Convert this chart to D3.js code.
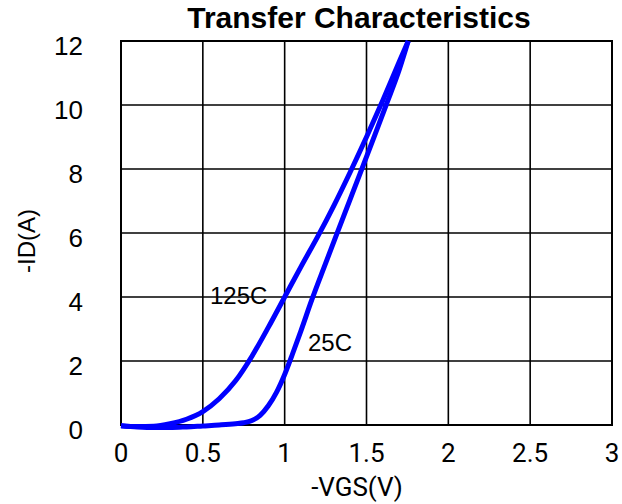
<!DOCTYPE html>
<html>
<head>
<meta charset="utf-8">
<script src="https://cdn.jsdelivr.net/npm/d3@7/dist/d3.min.js"></script>
<style>
  html, body { margin: 0; padding: 0; background: #fff; }
  svg { display: block; }
</style>
</head>
<body>
<svg id="chart" width="622" height="504"></svg>
<script>
// Transfer characteristics: -ID versus -VGS at two junction temperatures
const xTicks = [0, 0.5, 1, 1.5, 2, 2.5, 3];
const yTicks = [0, 2, 4, 6, 8, 10, 12];

const vgs125 = [0, 0.1, 0.2, 0.3, 0.4, 0.5, 0.6, 0.7, 0.8, 0.9, 1.0, 1.1, 1.2, 1.3, 1.4, 1.5, 1.6, 1.7, 1.755];
const id125  = [-0.02, -0.05, -0.04, 0.04, 0.18, 0.42, 0.82, 1.38, 2.15, 3.05, 4.0, 4.95, 5.87, 6.85, 7.9, 9.0, 10.15, 11.35, 12.0];

const vgs25 = [0, 0.1, 0.2, 0.3, 0.4, 0.5, 0.6, 0.7, 0.75, 0.8, 0.85, 0.9, 0.95, 1.0, 1.05, 1.1, 1.165, 1.25, 1.317, 1.4, 1.47, 1.55, 1.62, 1.7, 1.755];
const id25  = [-0.02, -0.06, -0.08, -0.08, -0.06, -0.03, 0.0, 0.04, 0.07, 0.14, 0.3, 0.6, 1.02, 1.58, 2.25, 2.95, 3.9, 5.05, 5.95, 7.05, 7.98, 9.05, 10.0, 11.1, 12.0];

const seriesNames = ["125C", "25C"];

const svg = d3.select("#chart");
const plotL = 121, plotR = 612, plotT = 41, plotB = 425;

const x = d3.scaleLinear().domain([0, 3]).range([plotL, plotR]);
const y = d3.scaleLinear().domain([0, 12]).range([plotB, plotT]);

// grid
const grid = svg.append("g").attr("stroke", "#000").attr("stroke-width", 1.6);
grid.selectAll("line.v").data(xTicks).join("line")
  .attr("x1", d => x(d)).attr("x2", d => x(d))
  .attr("y1", plotT).attr("y2", plotB);
grid.selectAll("line.h").data(yTicks).join("line")
  .attr("x1", plotL).attr("x2", plotR)
  .attr("y1", d => y(d)).attr("y2", d => y(d));

// frame
svg.append("rect")
  .attr("x", plotL).attr("y", plotT)
  .attr("width", plotR - plotL).attr("height", plotB - plotT)
  .attr("fill", "none").attr("stroke", "#000").attr("stroke-width", 2);

// x tick labels
svg.append("g").selectAll("text").data(xTicks).join("text")
  .attr("x", d => x(d)).attr("y", 462)
  .attr("text-anchor", "middle")
  .attr("font-family", "Roboto, sans-serif").attr("font-size", 26)
  .text(d => d);

// y tick labels
svg.append("g").selectAll("text").data(yTicks).join("text")
  .attr("x", 83).attr("y", d => y(d)).attr("dy", "0.52em")
  .attr("text-anchor", "end")
  .attr("font-family", "'Liberation Sans', Arial, sans-serif").attr("font-size", 26)
  .text(d => d);

// axis titles
svg.append("text")
  .attr("x", 357).attr("y", 496)
  .attr("text-anchor", "middle")
  .attr("font-family", "Roboto, sans-serif").attr("font-size", 26)
  .text("-VGS(V)");

svg.append("text")
  .attr("transform", "translate(35,241) rotate(-90)")
  .attr("text-anchor", "middle")
  .attr("font-family", "'Liberation Sans', Arial, sans-serif").attr("font-size", 24)
  .text("-ID(A)");

// title
svg.append("text")
  .attr("x", 359).attr("y", 28)
  .attr("text-anchor", "middle")
  .attr("font-family", "'Liberation Sans', Arial, sans-serif")
  .attr("font-weight", "bold").attr("font-size", 30)
  .text("Transfer Characteristics");

// curves
const line = d3.line()
  .x(d => x(d[0])).y(d => y(d[1]))
  .curve(d3.curveMonotoneX);

const curves = [d3.zip(vgs125, id125), d3.zip(vgs25, id25)];
svg.append("g").selectAll("path").data(curves).join("path")
  .attr("d", line)
  .attr("fill", "none")
  .attr("stroke", "#0000ff")
  .attr("stroke-width", 5)
  .attr("stroke-linejoin", "round");

// curve labels
svg.append("text")
  .attr("x", 210).attr("y", 304)
  .attr("font-family", "'Liberation Sans', Arial, sans-serif").attr("font-size", 24)
  .text(seriesNames[0]);
svg.append("text")
  .attr("x", 308).attr("y", 351)
  .attr("font-family", "'Liberation Sans', Arial, sans-serif").attr("font-size", 24)
  .text(seriesNames[1]);
</script>
</body>
</html>
